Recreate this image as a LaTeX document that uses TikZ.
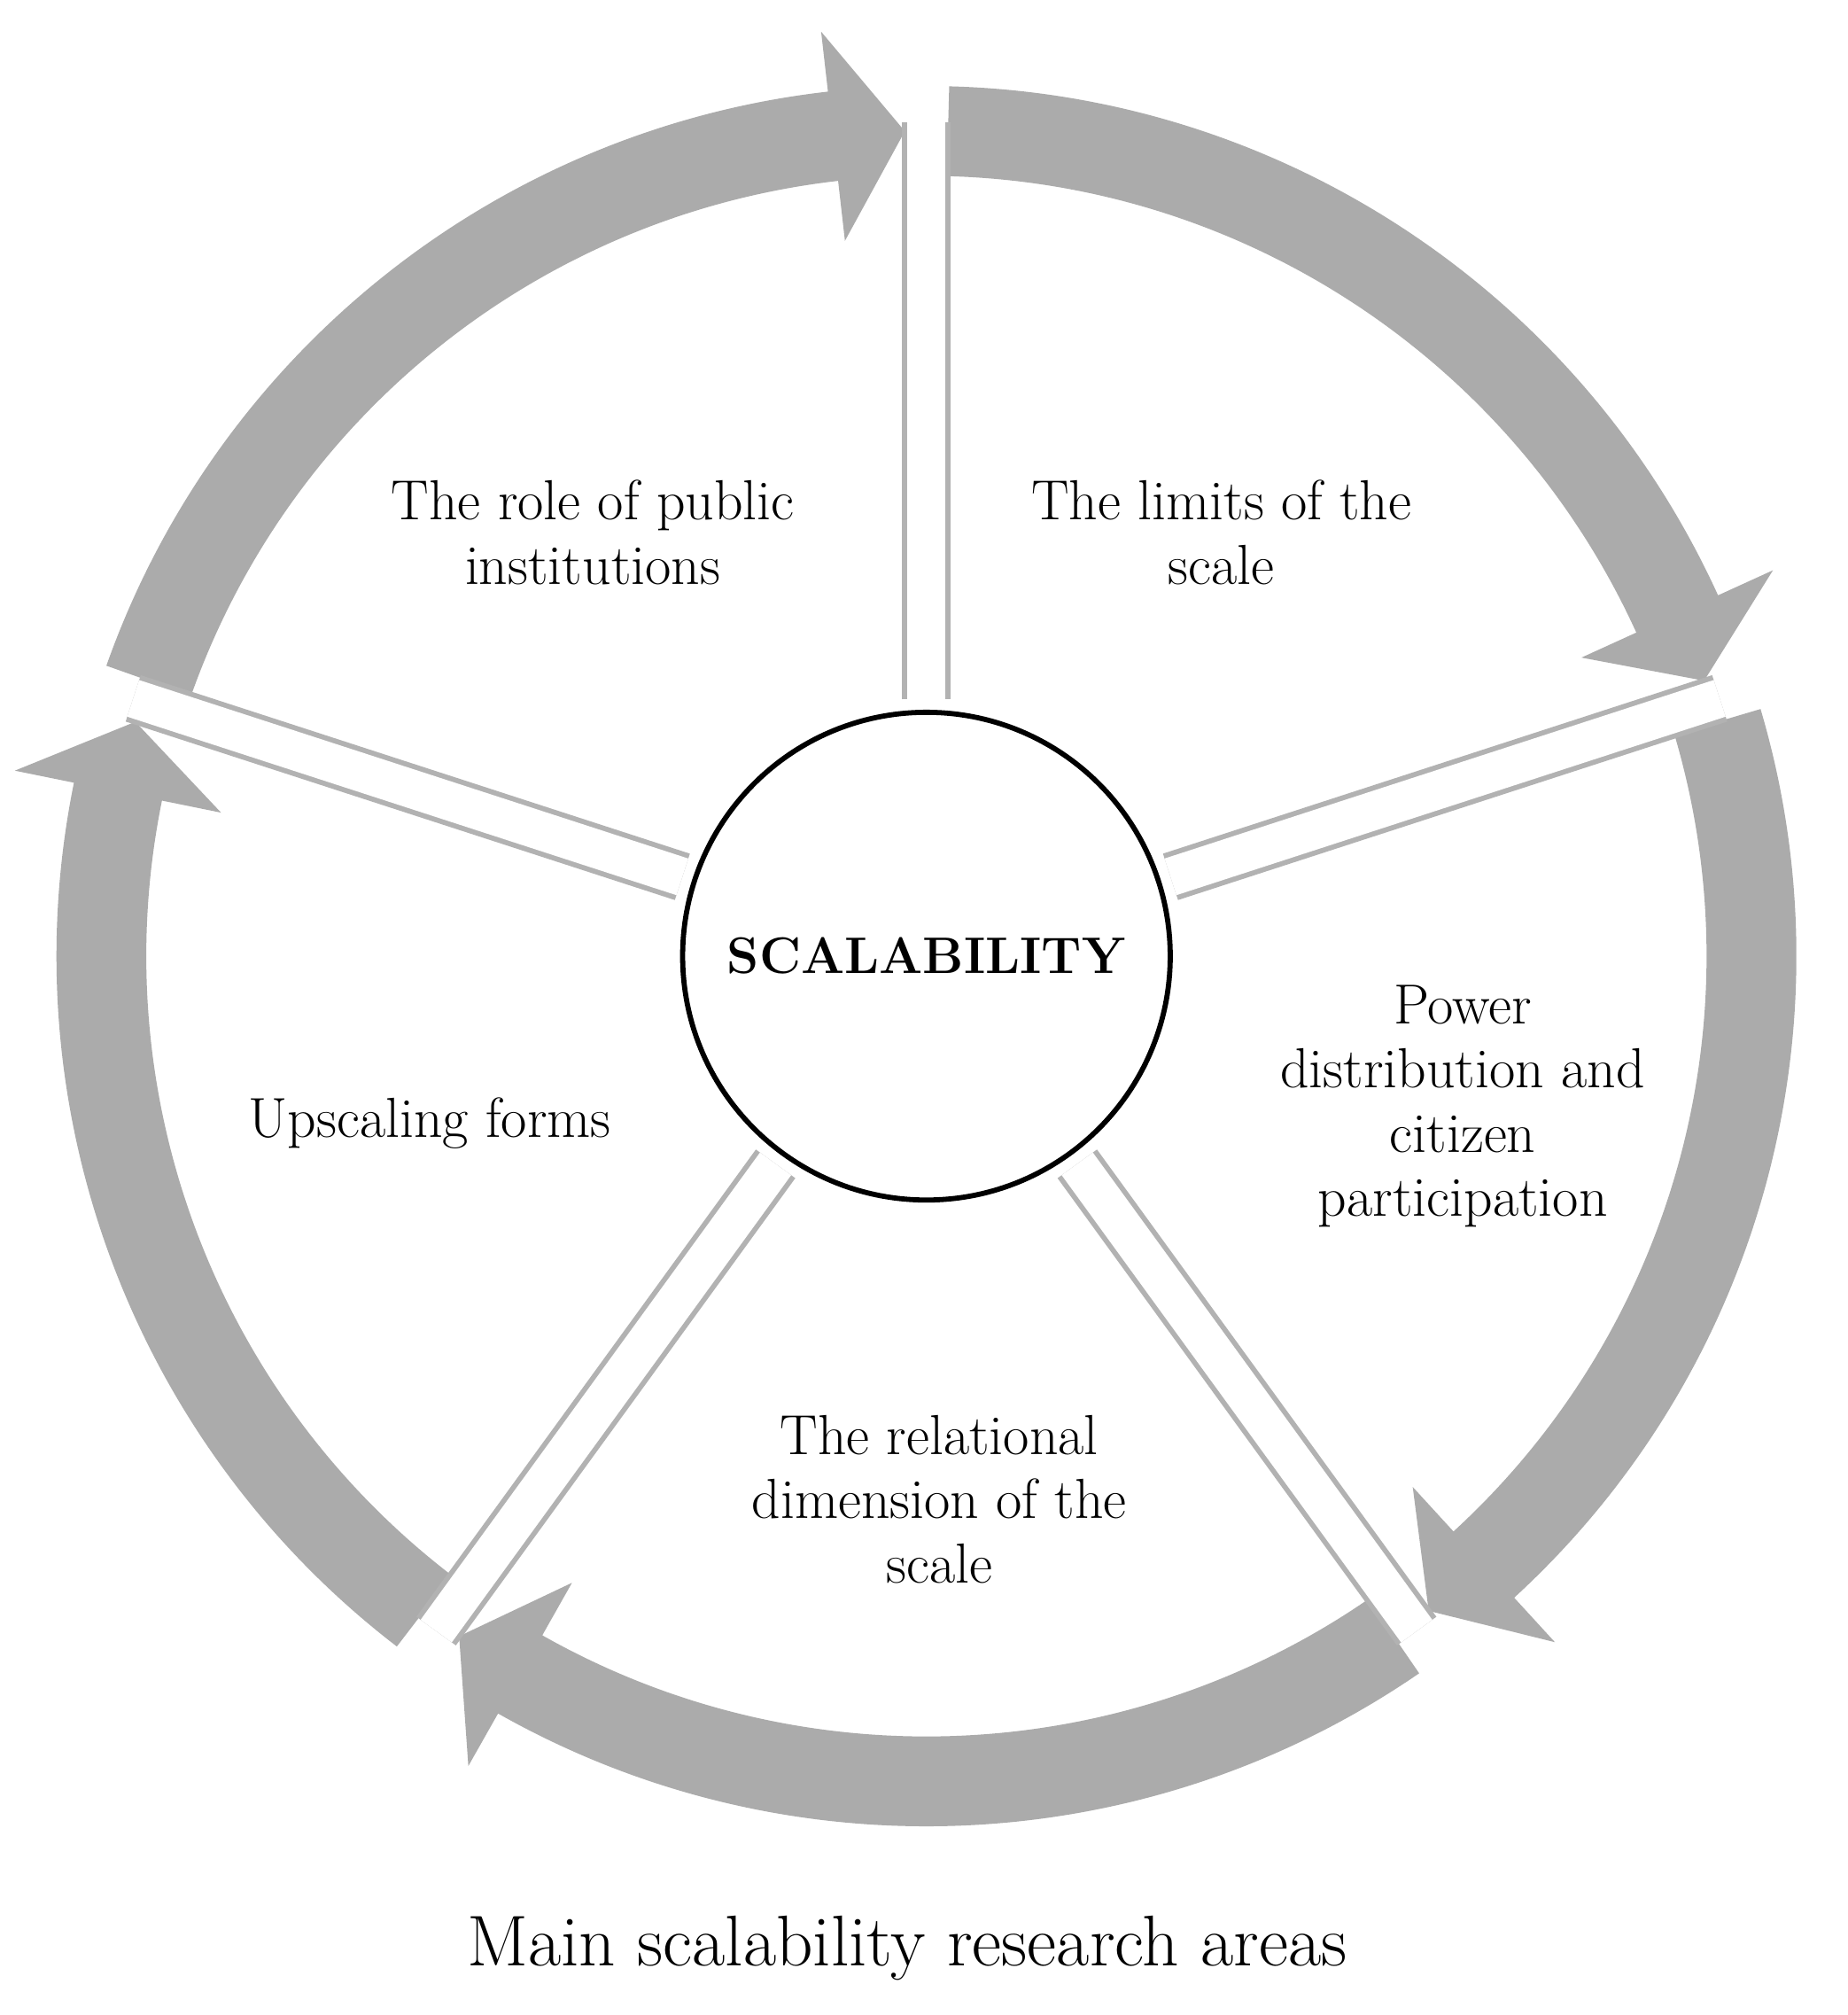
\documentclass[tikz,border=0pt]{standalone}
\usepackage{tikz}

\tikzset{
  ringarrow/.style={fill=black!33},
  spoke/.style={draw=black!30,line width=2pt,double=white,double distance=15pt},
  area/.style={align=center,font=\fontsize{22}{25}\selectfont},
}

\begin{document}
\begin{tikzpicture}[x=0.5pt,y=0.5pt]
\useasboundingbox (-722,-825) rectangle (718,745);

% ring of arrows
\foreach \s in {90,18,-54,-126,-198}{
  \fill[ringarrow] ({\s-1.5}:678) arc[start angle={\s-1.5}, end angle={\s-65.5}, radius=678]
    -- ({\s-65.5}:725) -- ({\s-70.5}:643) -- ({\s-65.5}:561) -- ({\s-65.5}:608)
    arc[start angle={\s-65.5}, end angle={\s-1.5}, radius=608] -- cycle;
}

% spokes
\foreach \s in {90,18,-54,-126,162}{
  \draw[spoke] ({\s}:200) -- ({\s}:650);
}

% hub
\node[circle,draw,line width=2pt,fill=white,minimum size=190pt,
      font=\fontsize{20}{24}\selectfont\bfseries] (hub) at (0,0) {SCALABILITY};

% Text Node
\node[area] (publicrole) at (-260,330) {The role of public\\institutions};
\node[area] (limits) at (230,330) {The limits of the\\scale};
\node[area] (power) at (418,-117) {Power\\distribution and\\citizen\\participation};
\node[area] (relational) at (10,-423) {The relational\\dimension of the\\scale};
\node[area] (forms) at (-387,-130) {Upscaling forms};

\node[font=\fontsize{28}{32}\selectfont] (caption) at (-15,-773) {Main scalability research areas};
\end{tikzpicture}
\end{document}
